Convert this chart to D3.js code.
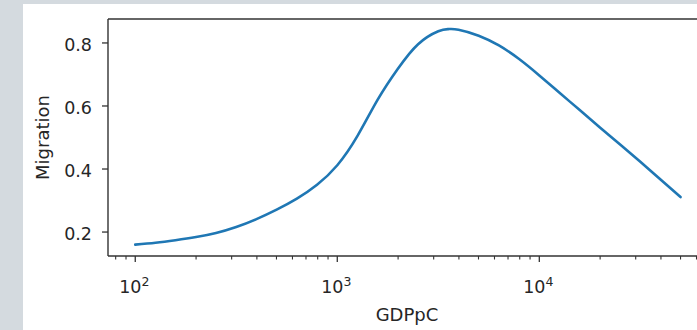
<!DOCTYPE html>
<html>
<head>
  <script src="https://d3js.org/d3.v7.min.js"></script>
  <style>
    body { margin: 0; background: #d4dadf; }
    svg { display: block; }
  </style>
</head>
<body>
<script>
  // values
  var gdp = [100, 126, 158, 200, 251, 316, 398, 501, 631, 794, 1000, 1259, 1585, 1995,
             2512, 3162, 3548, 3981, 5012, 6310, 7943, 10000, 12589, 15849, 19953, 25119,
             31623, 39811, 50000];
  var migration = [0.160, 0.166, 0.174, 0.184, 0.197, 0.216, 0.241, 0.271, 0.306, 0.350,
                   0.412, 0.505, 0.620, 0.718, 0.796, 0.837, 0.844, 0.842, 0.823, 0.792,
                   0.749, 0.697, 0.642, 0.587, 0.532, 0.478, 0.423, 0.367, 0.311];
  var xMajor = [100, 1000, 10000];
  var xMajorExp = ["2", "3", "4"];
  var xMinor = [80, 90, 200, 300, 400, 500, 600, 700, 800, 900,
                2000, 3000, 4000, 5000, 6000, 7000, 8000, 9000,
                20000, 30000, 40000, 50000, 60000];
  var yTicks = [0.2, 0.4, 0.6, 0.8];
  var yTickLabels = ["0.2", "0.4", "0.6", "0.8"];

  var W = 697, H = 330;
  var font = "DejaVu Sans";

  var svg = d3.select("body").append("svg")
      .attr("width", W)
      .attr("height", H);

  // white figure area (the gray strip on the left/top is page background)
  svg.append("rect")
      .attr("x", 23).attr("y", 4)
      .attr("width", W - 23).attr("height", H - 4)
      .attr("fill", "#ffffff");

  var x = d3.scaleLog().domain([73.3, 68230]).range([108, 707.8]);
  var y = d3.scaleLinear().domain([0.124, 0.876]).range([256, 19]);

  // curve
  var pts = gdp.map(function (g, i) { return [g, migration[i]]; });
  var line = d3.line()
      .x(function (d) { return x(d[0]); })
      .y(function (d) { return y(d[1]); })
      .curve(d3.curveNatural);
  svg.append("path")
      .datum(pts)
      .attr("d", line)
      .attr("fill", "none")
      .attr("stroke", "#1f77b4")
      .attr("stroke-width", 2.6)
      .attr("stroke-linecap", "round");

  // spines
  var spine = "#333";
  svg.append("line").attr("x1", 108).attr("x2", 108).attr("y1", 19).attr("y2", 256)
      .attr("stroke", spine).attr("stroke-width", 1.4);
  svg.append("line").attr("x1", 108).attr("x2", 708).attr("y1", 256).attr("y2", 256)
      .attr("stroke", spine).attr("stroke-width", 1.4);
  svg.append("line").attr("x1", 108).attr("x2", 708).attr("y1", 19).attr("y2", 19)
      .attr("stroke", spine).attr("stroke-width", 1.4);

  // x ticks
  svg.selectAll(".xminor").data(xMinor).enter().append("line")
      .attr("x1", function (d) { return x(d); })
      .attr("x2", function (d) { return x(d); })
      .attr("y1", 256).attr("y2", 259.5)
      .attr("stroke", spine).attr("stroke-width", 1.1);
  svg.selectAll(".xmajor").data(xMajor).enter().append("line")
      .attr("x1", function (d) { return x(d); })
      .attr("x2", function (d) { return x(d); })
      .attr("y1", 256).attr("y2", 262)
      .attr("stroke", spine).attr("stroke-width", 1.3);

  var xl = svg.selectAll(".xlab").data(xMajor).enter().append("text")
      .attr("x", function (d) { return x(d) - 1; })
      .attr("y", 293)
      .attr("text-anchor", "middle")
      .style("font-family", font)
      .style("font-size", "17.5px")
      .attr("fill", "#262626");
  xl.append("tspan").text("10");
  xl.append("tspan")
      .attr("dy", -7.5)
      .style("font-size", "12.5px")
      .text(function (d, i) { return xMajorExp[i]; });

  // y ticks
  svg.selectAll(".ytick").data(yTicks).enter().append("line")
      .attr("x1", 102).attr("x2", 108)
      .attr("y1", function (d) { return y(d); })
      .attr("y2", function (d) { return y(d); })
      .attr("stroke", spine).attr("stroke-width", 1.3);
  svg.selectAll(".ylab").data(yTicks).enter().append("text")
      .attr("x", 92)
      .attr("y", function (d) { return y(d); })
      .attr("dy", "0.45em")
      .attr("text-anchor", "end")
      .style("font-family", font)
      .style("font-size", "17.5px")
      .attr("fill", "#262626")
      .text(function (d, i) { return yTickLabels[i]; });

  // axis titles
  svg.append("text")
      .attr("x", 407).attr("y", 321)
      .attr("text-anchor", "middle")
      .style("font-family", font)
      .style("font-size", "18px")
      .attr("fill", "#262626")
      .text("GDPpC");
  svg.append("text")
      .attr("transform", "translate(49,137.5) rotate(-90)")
      .attr("text-anchor", "middle")
      .style("font-family", font)
      .style("font-size", "18px")
      .attr("fill", "#262626")
      .text("Migration");
</script>
</body>
</html>
